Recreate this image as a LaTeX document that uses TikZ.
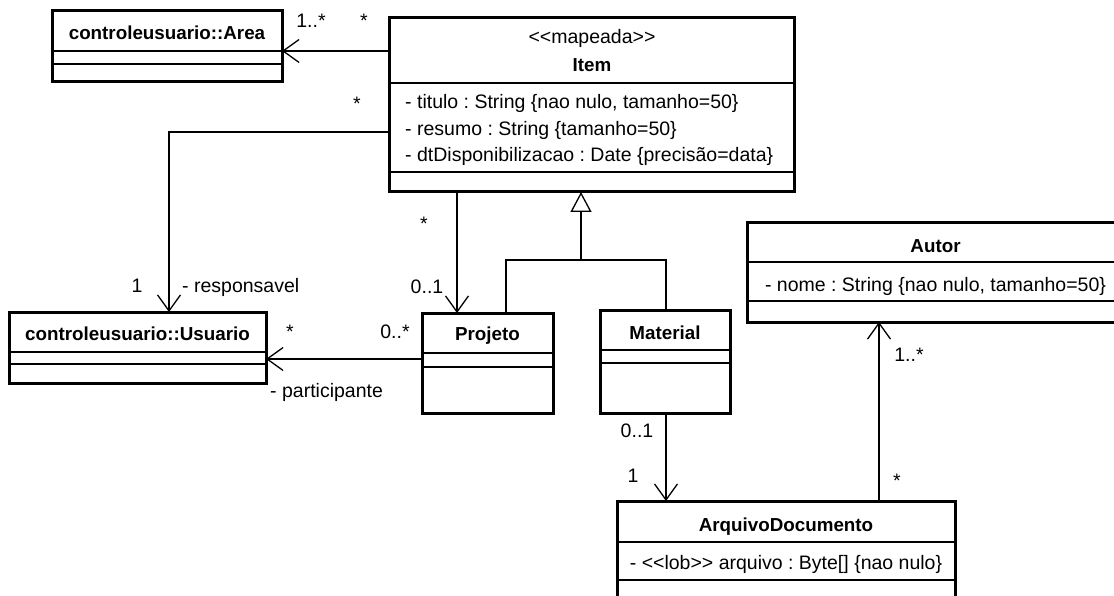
\documentclass[tikz,border=0pt]{standalone}
\usepackage{fontspec}
\setmainfont{Liberation Sans}
\usetikzlibrary{arrows.meta}
\frenchspacing
\newcommand\rgfont{\fontsize{19.5}{22}\selectfont}
\newcommand\bdfont{\fontsize{18.8}{22}\selectfont\bfseries}
% guillemet-free stereotype brackets
\newcommand\stlt{<\kern0pt<}
\newcommand\stgt{>\kern0pt>}
% horizontal compartment line inside a class box, #2 below its top edge
\newcommand\compsep[2]{\draw[compline] ([yshift=-#2]#1.north west) -- ([yshift=-#2]#1.north east);}
\tikzset{
  classbox/.style={draw, line width=3pt, inner sep=0pt, outer sep=0pt, anchor=north west},
  compline/.style={line width=1.5pt},
  assoc/.style={line width=1.3pt, -{Straight Barb[length=16pt,width=23pt]}},
  genline/.style={line width=1.3pt},
  genarrow/.style={line width=1.3pt, -{Triangle[open,length=20pt,width=21pt,fill=white]}},
  title/.style={font=\bdfont, inner sep=0pt, anchor=base},
  attr/.style={font=\rgfont, inner sep=0pt, anchor=base},
  attrleft/.style={font=\rgfont, inner sep=0pt, anchor=base west},
  mult/.style={font=\rgfont, inner sep=0pt, anchor=base},
  role/.style={font=\rgfont, inner sep=0pt, anchor=base west},
}
\begin{document}
\begin{tikzpicture}[x=1pt,y=-1pt]
\useasboundingbox (0,0) rectangle (1114,596);
\clip (0,0) rectangle (1114,596);
\fill[white] (0,0) rectangle (1114,596);

% class boxes
\node[classbox, minimum width=230pt, minimum height=71pt] (area) at (52,11) {};
\node[classbox, minimum width=405pt, minimum height=174pt] (item) at (389,18) {};
\node[classbox, minimum width=257pt, minimum height=71pt] (usuario) at (9,312) {};
\node[classbox, minimum width=131pt, minimum height=100pt] (projeto) at (422,313) {};
\node[classbox, minimum width=130pt, minimum height=103pt] (material) at (600,310) {};
\node[classbox, minimum width=377pt, minimum height=99pt] (autor) at (747,223) {};
\node[classbox, minimum width=338pt, minimum height=130pt] (arquivo) at (617,501) {};

% compartments
\compsep{area}{40pt}\compsep{area}{53pt}
\compsep{item}{65pt}\compsep{item}{154pt}
\compsep{usuario}{40pt}\compsep{usuario}{52pt}
\compsep{projeto}{40pt}\compsep{projeto}{54pt}
\compsep{material}{40pt}\compsep{material}{53pt}
\compsep{autor}{39pt}\compsep{autor}{78pt}
\compsep{arquivo}{41pt}\compsep{arquivo}{79pt}

% class names and attributes
\node[title] (area-name) at (167,40) {controleusuario::Area};
\node[attr] (item-stereo) at (592,44) {\stlt mapeada\stgt};
\node[title] (item-name) at (592,72) {Item};
\node[attrleft] (item-a1) at (405,109) {- titulo : String \{nao nulo, tamanho=50\}};
\node[attrleft] (item-a2) at (405,136) {- resumo : String \{tamanho=50\}};
\node[attrleft] (item-a3) at (405,162) {- dtDisponibilizacao : Date \{precisão=data\}};
\node[title] (usuario-name) at (137.5,340) {controleusuario::Usuario};
\node[title] (projeto-name) at (487.5,340) {Projeto};
\node[title] (material-name) at (665,339) {Material};
\node[title] (autor-name) at (935.5,253) {Autor};
\node[attr] (autor-a1) at (935.5,291) {- nome : String \{nao nulo, tamanho=50\}};
\node[title] (arquivo-name) at (786,531) {ArquivoDocumento};
\node[attr] (arquivo-a1) at (786,569) {- \stlt lob\stgt{} arquivo : Byte[] \{nao nulo\}};

% associations
\draw[assoc] ([yshift=-33pt]item.north west) -- ([yshift=-40pt]area.north east);
\draw[assoc] ([yshift=-114pt]item.north west) -| ([xshift=160pt]usuario.north west);
\draw[assoc] ([xshift=68pt]item.south west) -- ([xshift=35pt]projeto.north west);
\draw[assoc] ([yshift=-46pt]projeto.north west) -- ([yshift=-47pt]usuario.north east);
\draw[assoc] ([xshift=66pt]material.south west) -- ([xshift=49pt]arquivo.north west);
\draw[assoc] ([xshift=262pt]arquivo.north west) -- ([xshift=132pt]autor.south west);

% generalization tree
\coordinate (genjoin) at (581,260);
\draw[genline] ([xshift=84pt]projeto.north west) |- (genjoin) -| ([xshift=66pt]material.north west);
\draw[genarrow] (genjoin) -- ([xshift=192pt]item.south west);

% multiplicities and roles
\node[mult] (m-area-1) at (311,28) {1..*};
\node[mult] (m-area-2) at (364,28) {*};
\node[mult] (m-resp-1) at (357,111) {*};
\node[mult] (m-resp-2) at (137,292) {1};
\node[role] (r-resp) at (182,292) {- responsavel};
\node[mult] (m-proj-1) at (424,231) {*};
\node[mult] (m-proj-2) at (427,293) {0..1};
\node[mult] (m-part-1) at (395,338) {0..*};
\node[mult] (m-part-2) at (290,338) {*};
\node[role] (r-part) at (270,397) {- participante};
\node[mult] (m-arq-1) at (637,437) {0..1};
\node[mult] (m-arq-2) at (633,482) {1};
\node[mult] (m-aut-1) at (909,361) {1..*};
\node[mult] (m-aut-2) at (897,487) {*};
\end{tikzpicture}
\end{document}
